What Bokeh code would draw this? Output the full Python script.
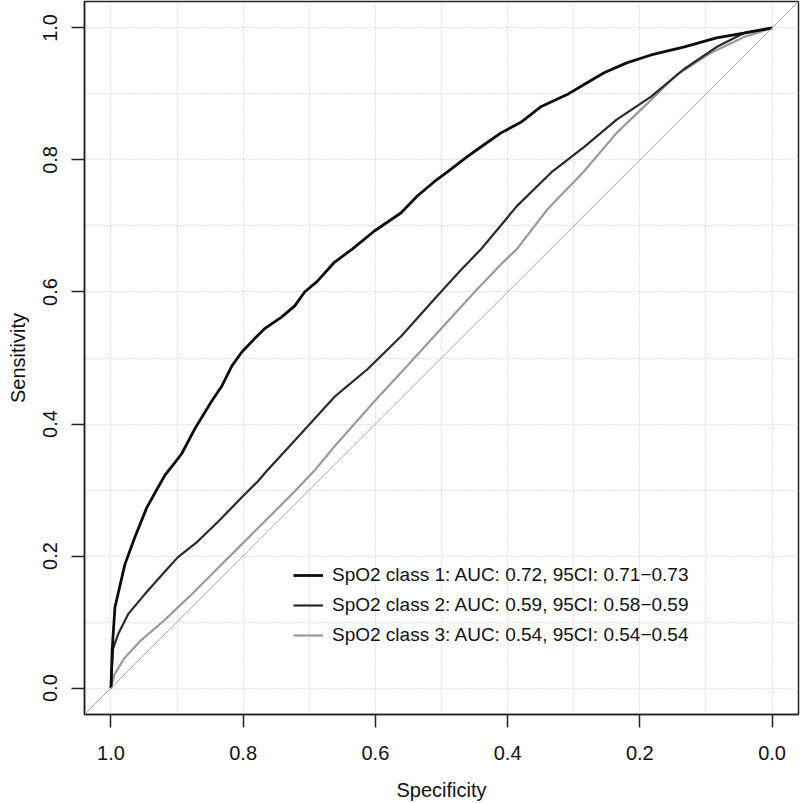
from bokeh.plotting import figure
from bokeh.models import Range1d, FixedTicker, Legend, LegendItem, Slope, PrintfTickFormatter
from bokeh.embed import file_html
from bokeh.resources import INLINE

# ---- data ----
spec1 = [1.0, 0.998, 0.994, 0.979, 0.964, 0.946, 0.931, 0.918, 0.906, 0.893, 0.873, 0.848, 0.832,
         0.817, 0.802, 0.783, 0.768, 0.742, 0.722, 0.707, 0.688, 0.662, 0.635, 0.602, 0.561, 0.537,
         0.511, 0.491, 0.461, 0.440, 0.410, 0.380, 0.349, 0.310, 0.285, 0.254, 0.220, 0.183, 0.134,
         0.084, 0.043, 0.0]
sens1 = [0.0, 0.060, 0.122, 0.187, 0.228, 0.273, 0.300, 0.323, 0.338, 0.355, 0.393, 0.434, 0.458,
         0.488, 0.509, 0.529, 0.544, 0.562, 0.579, 0.600, 0.616, 0.645, 0.665, 0.692, 0.720, 0.745,
         0.767, 0.782, 0.805, 0.820, 0.841, 0.857, 0.881, 0.899, 0.914, 0.932, 0.947, 0.959, 0.971,
         0.985, 0.992, 1.0]

spec2 = [1.0, 0.997, 0.989, 0.974, 0.949, 0.918, 0.899, 0.869, 0.838, 0.802, 0.778, 0.765, 0.713,
         0.662, 0.612, 0.561, 0.511, 0.470, 0.440, 0.386, 0.334, 0.285, 0.235, 0.183, 0.134, 0.084,
         0.043, 0.0]
sens2 = [0.0, 0.059, 0.082, 0.112, 0.142, 0.177, 0.198, 0.222, 0.252, 0.289, 0.313, 0.328, 0.385,
         0.441, 0.483, 0.533, 0.589, 0.634, 0.665, 0.730, 0.781, 0.819, 0.861, 0.896, 0.937, 0.971,
         0.992, 1.0]

spec3 = [1.0, 0.995, 0.98, 0.955, 0.92, 0.88, 0.84, 0.80, 0.76, 0.72, 0.69, 0.662, 0.60, 0.55,
         0.50, 0.45, 0.41, 0.386, 0.34, 0.285, 0.235, 0.183, 0.144, 0.093, 0.043, 0.0]
sens3 = [0.0, 0.020, 0.045, 0.072, 0.102, 0.140, 0.180, 0.220, 0.260, 0.300, 0.332, 0.366, 0.436,
         0.490, 0.545, 0.600, 0.642, 0.665, 0.725, 0.782, 0.841, 0.891, 0.929, 0.962, 0.986, 1.0]

labels = ["SpO2 class 1: AUC: 0.72, 95CI: 0.71\u22120.73",
          "SpO2 class 2: AUC: 0.59, 95CI: 0.58\u22120.59",
          "SpO2 class 3: AUC: 0.54, 95CI: 0.54\u22120.54"]

major_ticks = [0.0, 0.2, 0.4, 0.6, 0.8, 1.0]
grid_ticks = [0.0, 0.1, 0.2, 0.3, 0.4, 0.5, 0.6, 0.7, 0.8, 0.9, 1.0]

FONT = "Liberation Sans"

p = figure(width=800, height=803, output_backend="svg", toolbar_location=None,
           x_range=Range1d(1.04, -0.04), y_range=Range1d(-0.04, 1.04),
           min_border_left=84, min_border_right=2, min_border_top=1, min_border_bottom=87,
           x_axis_label="Specificity", y_axis_label="Sensitivity")
p.background_fill_color = "white"
p.border_fill_color = "white"
p.outline_line_color = "#222222"
p.outline_line_width = 1.5

for g in (p.xgrid, p.ygrid):
    g.ticker = FixedTicker(ticks=grid_ticks)
    g.grid_line_color = "#c8c8c8"
    g.grid_line_dash = "1 2"
    g.grid_line_width = 1

for ax in (p.xaxis, p.yaxis):
    ax.ticker = FixedTicker(ticks=major_ticks)
    ax.formatter = PrintfTickFormatter(format="%.1f")
    ax.axis_line_color = "#222222"
    ax.axis_line_width = 1.5
    ax.major_tick_line_color = "#222222"
    ax.major_tick_line_width = 1.5
    ax.major_tick_in = 0
    ax.major_tick_out = 13
    ax.minor_tick_line_color = None
    ax.major_label_text_font = FONT
    ax.major_label_text_font_size = "20px"
    ax.major_label_text_color = "#111111"
    ax.axis_label_text_font = FONT
    ax.axis_label_text_font_size = "20px"
    ax.axis_label_text_font_style = "normal"
    ax.axis_label_text_color = "#111111"

p.xaxis.major_label_standoff = 18
p.xaxis.axis_label_standoff = 16
p.yaxis.major_label_orientation = "vertical"
p.yaxis.major_label_standoff = 14
p.yaxis.axis_label_standoff = 12

p.add_layout(Slope(gradient=-1, y_intercept=1, line_color="#a8a8a8", line_width=1))

r3 = p.line(spec3, sens3, line_color="#9a9a9a", line_width=2.2)
r2 = p.line(spec2, sens2, line_color="#2a2a2a", line_width=2.2)
r1 = p.line(spec1, sens1, line_color="#0d0d0d", line_width=2.8)

legend = Legend(items=[LegendItem(label=labels[0], renderers=[r1]),
                       LegendItem(label=labels[1], renderers=[r2]),
                       LegendItem(label=labels[2], renderers=[r3])],
                location=(209, 64))
legend.border_line_color = None
legend.background_fill_alpha = 0
legend.padding = 0
legend.margin = 0
legend.spacing = 0
legend.glyph_width = 30
legend.glyph_height = 30
legend.label_height = 30
legend.label_standoff = 9
legend.label_text_font = FONT
legend.label_text_font_size = "19px"
legend.label_text_color = "#111111"
p.add_layout(legend)

open("out.html", "w").write(file_html(p, INLINE))
